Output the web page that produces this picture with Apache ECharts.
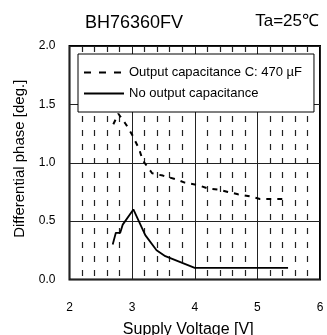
<!DOCTYPE html>
<html>
<head>
<meta charset="utf-8">
<script src="https://cdn.jsdelivr.net/npm/echarts@6/dist/echarts.min.js"></script>
<style>
  html, body { margin: 0; padding: 0; background: #fff; }
  #chart { width: 327px; height: 335px; }
</style>
</head>
<body>
<div id="chart"></div>
<script>
// values
const voltsC470 = [2.70, 2.78, 2.90, 3.00, 3.11, 3.17, 3.32, 3.40, 3.49, 3.69, 3.84, 4.04, 4.21, 4.39, 4.53, 4.69, 4.90, 5.04, 5.22, 5.41]
const phaseC470 = [1.33, 1.42, 1.33, 1.24, 1.12, 1.02, 0.91, 0.90, 0.89, 0.86, 0.83, 0.81, 0.78, 0.77, 0.75, 0.73, 0.71, 0.69, 0.69, 0.69]
const voltsNoC = [2.69, 2.74, 2.81, 2.85, 3.02, 3.21, 3.39, 3.53, 4.00, 5.49]
const phaseNoC = [0.30, 0.40, 0.40, 0.47, 0.60, 0.38, 0.25, 0.20, 0.10, 0.10]
const seriesNames = ['Output capacitance C: 470 µF', 'No output capacitance']
const xTicks = [2, 3, 4, 5, 6]
const yTicks = [0, 0.5, 1.0, 1.5, 2.0]

const font = '"Liberation Sans", Arial, sans-serif'

function zip(xs, ys) {
  return xs.map((x, i) => [x, ys[i]])
}

const chart = echarts.init(document.getElementById('chart'))
chart.setOption({
  animation: false,
  textStyle: { fontFamily: font, color: '#000' },
  title: [
    {
      text: 'BH76360FV',
      left: 80,
      top: 9,
      textStyle: { fontFamily: font, fontSize: 18, fontWeight: 'normal', color: '#000' }
    },
    {
      text: 'Ta=25℃',
      right: 3,
      top: 8,
      textStyle: { fontFamily: font, fontSize: 17, fontWeight: 'normal', color: '#000' }
    }
  ],
  grid: {
    left: 69.5,
    right: 7,
    top: 46,
    bottom: 55.5,
    outerBoundsMode: 'none',
    containLabel: false,
    show: true,
    borderColor: '#000',
    borderWidth: 2
  },
  legend: {
    orient: 'vertical',
    left: 78,
    top: 54,
    padding: [12, 12, 12, 5],
    itemWidth: 40,
    itemHeight: 14,
    itemGap: 8,
    backgroundColor: '#fff',
    borderColor: '#000',
    borderWidth: 1,
    itemStyle: { opacity: 0 },
    textStyle: { fontFamily: font, fontSize: 13, color: '#000' },
    data: [
      { name: seriesNames[0], lineStyle: { type: [7, 8], width: 2 }, itemStyle: { opacity: 0 } },
      { name: seriesNames[1], lineStyle: { type: 'solid', width: 2 }, itemStyle: { opacity: 0 } }
    ]
  },
  xAxis: {
    type: 'value',
    min: xTicks[0],
    max: xTicks[xTicks.length - 1],
    interval: 1,
    name: 'Supply Voltage [V]',
    nameLocation: 'middle',
    nameGap: 42,
    nameTextStyle: { fontFamily: font, fontSize: 16, color: '#000', padding: [0, 13, 0, 0] },
    axisLine: { show: false },
    axisTick: { show: false },
    axisLabel: { margin: 22, fontFamily: font, fontSize: 12, color: '#000' },
    splitLine: { show: true, lineStyle: { color: '#222', width: 1 } },
    minorTick: { show: false, splitNumber: 5 },
    minorSplitLine: { show: true, lineStyle: { color: '#222', width: 1.2, type: [6, 8] } }
  },
  yAxis: {
    type: 'value',
    min: yTicks[0],
    max: yTicks[yTicks.length - 1],
    interval: 0.5,
    name: 'Differential phase [deg.]',
    nameLocation: 'middle',
    nameGap: 42,
    nameTextStyle: { fontFamily: font, fontSize: 15, color: '#000', padding: [0, 0, 0, 8] },
    axisLine: { show: false },
    axisTick: { show: false },
    axisLabel: {
      margin: 14,
      fontFamily: font,
      fontSize: 12,
      color: '#000',
      formatter: v => v.toFixed(1)
    },
    splitLine: { show: true, lineStyle: { color: '#222', width: 1 } }
  },
  series: [
    {
      name: seriesNames[0],
      type: 'line',
      symbol: 'none',
      color: '#000',
      lineStyle: { color: '#000', width: 2, type: [5, 6] },
      data: zip(voltsC470, phaseC470)
    },
    {
      name: seriesNames[1],
      type: 'line',
      symbol: 'none',
      color: '#000',
      lineStyle: { color: '#000', width: 1.8, type: 'solid' },
      data: zip(voltsNoC, phaseNoC)
    }
  ]
})
</script>
</body>
</html>
